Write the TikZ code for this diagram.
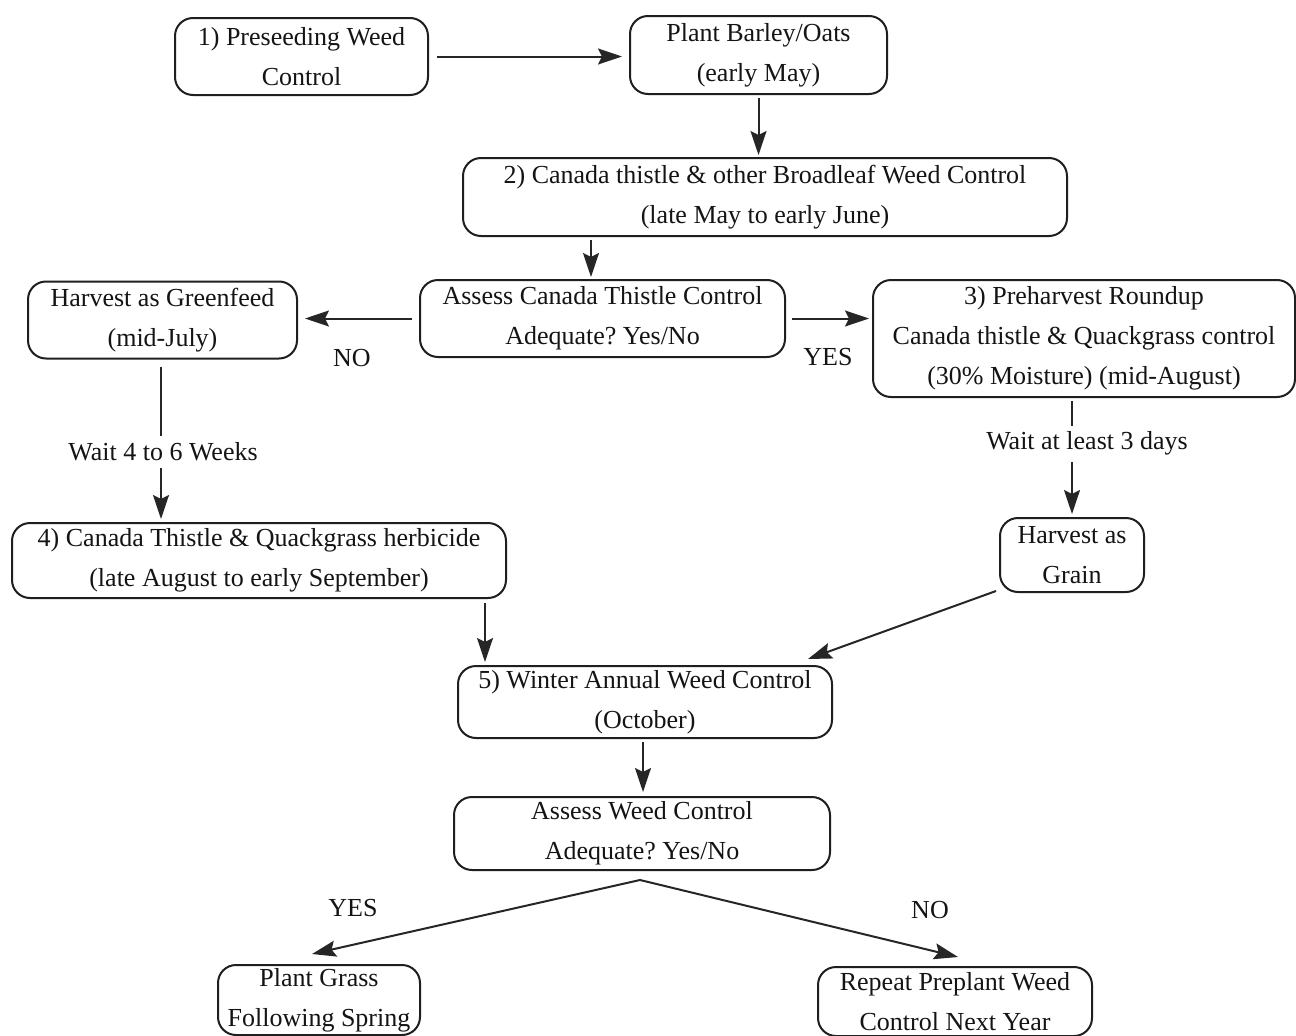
\documentclass[tikz,border=0pt]{standalone}
\usepackage{fontspec}
\setmainfont{Liberation Serif}
\usetikzlibrary{arrows.meta,calc}
\begin{document}
\frenchspacing
\begin{tikzpicture}[x=1pt,y=-1pt,
  box/.style={draw=black!88, line width=2pt, rounded corners=18pt, align=center,
    inner sep=0pt, font=\fontsize{26}{40}\selectfont, text=black!92},
  lbl/.style={font=\fontsize{26}{32}\selectfont, inner sep=3pt, text=black!92},
  conn/.style={draw=black!85, line width=2pt},
  arr/.style={conn, -{Stealth[length=24pt,width=16pt,inset=4pt]}},
]
\useasboundingbox[fill=white] (0,0) rectangle (1296,1036);

% boxes
\node[box, minimum width=253pt, minimum height=77pt] (pre) at (301.5,56.5) {1) Preseeding Weed\\Control};
\node[box, minimum width=257pt, minimum height=78pt] (plant) at (758.5,55) {Plant Barley/Oats\\(early May)};
\node[box, minimum width=604pt, minimum height=78pt] (broad) at (765,197) {2) Canada thistle \& other Broadleaf Weed Control\\(late May to early June)};
\node[box, minimum width=365pt, minimum height=77pt] (assessA) at (602.5,318.5) {Assess Canada Thistle Control\\Adequate? Yes/No};
\node[box, minimum width=269pt, minimum height=77pt] (green) at (162.5,320) {Harvest as Greenfeed\\(mid-July)};
\node[box, minimum width=422pt, minimum height=117pt] (preh) at (1084,338.5) {3) Preharvest Roundup\\Canada thistle \& Quackgrass control\\(30\% Moisture) (mid-August)};
\node[box, minimum width=494pt, minimum height=75pt] (four) at (259,560.5) {4) Canada Thistle \& Quackgrass herbicide\\(late August to early September)};
\node[box, minimum width=144pt, minimum height=74pt] (grain) at (1072,555) {Harvest as\\Grain};
\node[box, minimum width=374pt, minimum height=72pt] (five) at (645,702) {5) Winter Annual Weed Control\\(October)};
\node[box, minimum width=376pt, minimum height=73pt] (assessB) at (642,833.5) {Assess Weed Control\\Adequate? Yes/No};
\node[box, minimum width=202pt, minimum height=70pt] (grass) at (319,1000) {Plant Grass\\Following Spring};
\node[box, minimum width=274pt, minimum height=69pt] (repeat) at (955,1001.5) {Repeat Preplant Weed\\Control Next Year};

% labels
\node[lbl] (noA) at (352,358) {NO};
\node[lbl] (yesA) at (828,357) {YES};
\node[lbl] (wait46) at (163,452) {Wait 4 to 6 Weeks};
\node[lbl] (wait3) at (1087,443) {Wait at least 3 days};
\node[lbl] (yesB) at (353,908) {YES};
\node[lbl] (noB) at (930,910) {NO};

% connectors
\draw[arr, shorten <=8pt, shorten >=7pt] (pre.east) -- (pre.east -| plant.west);
\draw[arr, shorten <=3pt, shorten >=2pt] (plant.south) -- (plant.south |- broad.north);
\coordinate (broadOut) at ($(broad.south)+(-174,0)$);
\draw[arr, shorten <=3pt, shorten >=2pt] (broadOut) -- (broadOut |- assessA.north);
\draw[arr, shorten <=7pt, shorten >=7pt] (assessA.west) -- (assessA.west -| green.east);
\draw[arr, shorten <=6pt, shorten >=3pt] (assessA.east) -- (assessA.east -| preh.west);

\coordinate (greenOut) at ($(green.south)+(-1.5,0)$);
\draw[conn, shorten <=7pt, shorten >=4pt] (greenOut) -- (greenOut |- wait46.north);
\draw[arr, shorten <=4pt, shorten >=3pt] (greenOut |- wait46.south) -- (greenOut |- four.north);

\draw[conn, shorten <=3pt, shorten >=2pt] (grain.north |- preh.south) -- (grain.north |- wait3.north);
\draw[arr, shorten <=4pt, shorten >=3pt] (grain.north |- wait3.south) -- (grain.north);

\coordinate (fourOut) at ($(four.south east)+(-22,4)$);
\draw[arr, shorten >=3pt] (fourOut) -- (fourOut |- five.north);
\draw[arr] ($(grain.south west)+(-3,-2)$) -- ($(five.north east)+(-25,-6)$);
\coordinate (fiveOut) at ($(five.south)+(-2,0)$);
\draw[arr, shorten <=3pt, shorten >=4pt] (fiveOut) -- (fiveOut |- assessB.north);

\coordinate (fork) at ($(assessB.south)+(-2,9)$);
\draw[arr] (fork) -- ($(grass.north)+(-7,-10)$);
\draw[arr] (fork) -- ($(repeat.north)+(3,-9)$);
\end{tikzpicture}
\end{document}
